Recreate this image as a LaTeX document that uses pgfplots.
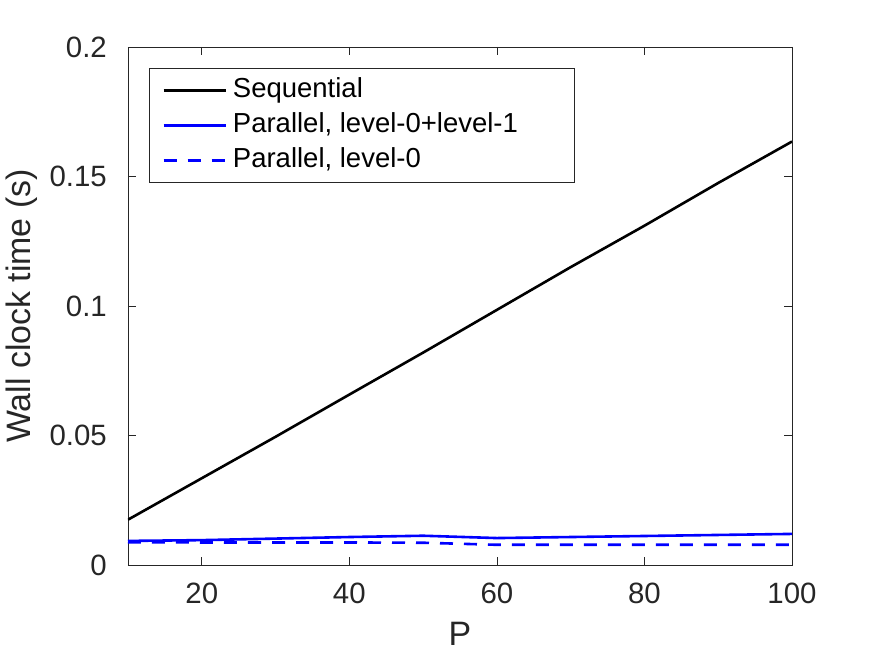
\documentclass[border=0pt]{standalone}
\usepackage{pgfplots}
\pgfplotsset{compat=1.18}
\usepackage{fontspec}
\setmainfont{Liberation Sans}
\definecolor{axgray}{gray}{0.15}
\begin{document}
\begin{tikzpicture}[x=1bp,y=1bp]
\useasboundingbox (-128bp,-92bp) rectangle (747bp,565bp);
\begin{axis}[
  scale only axis,
  width=664bp, height=518bp,
  at={(0,0)}, anchor=south west,
  xmin=10, xmax=100, ymin=0, ymax=0.2,
  xtick={20,40,60,80,100},
  ytick={0,0.05,0.1,0.15,0.2},
  yticklabels={0,0.05,0.1,0.15,0.2},
  scaled y ticks=false,
  tick align=inside,
  major tick length=8bp,
  axis line style={axgray, line width=0.7bp},
  every tick/.style={axgray, line width=0.7bp},
  tick label style={font=\fontsize{29.5}{34}\selectfont, text=axgray, inner sep=0bp},
  /pgf/number format/assume math mode=true,
  xticklabel style={anchor=north, yshift=-18bp},
  yticklabel style={anchor=east, xshift=-21bp},
  xlabel={P},
  ylabel={Wall clock time (s)},
  label style={font=\fontsize{34}{40}\selectfont, text=axgray, inner sep=0bp},
  xlabel style={at={(axis description cs:0.5,0)}, anchor=north, yshift=-57bp},
  ylabel style={at={(axis description cs:-0.1355,0.5)}, anchor=south},
  legend style={at={(21bp,497bp)}, anchor=north west, draw=axgray, line width=0.7bp,
    font=\fontsize{27.6}{33}\selectfont, inner xsep=13bp, inner ysep=9bp,
    row sep=9bp, column sep=6bp,
    nodes={inner sep=0bp, text height=20bp, text depth=6bp}},
  legend cell align=left,
  legend image code/.code={\draw[#1] (0bp,0bp) -- (62bp,0bp);},
]
\addplot[black, line width=2.6bp] coordinates {
 (10,0.0175) (20,0.0335) (30,0.0495) (40,0.0658) (50,0.0820)
 (60,0.0985) (70,0.1150) (80,0.1310) (90,0.1475) (100,0.1635)};
\addlegendentry{\makebox[328bp][l]{Sequential}}
\addplot[blue, line width=2.6bp] coordinates {
 (10,0.0093) (20,0.0096) (30,0.0102) (40,0.0108) (50,0.0113)
 (60,0.0104) (70,0.0108) (80,0.0112) (90,0.0116) (100,0.0120)};
\addlegendentry{Parallel, level-0+level-1}
\addplot[blue, line width=2.6bp, dash pattern=on 13bp off 11bp] coordinates {
 (10,0.0088) (20,0.0087) (30,0.0087) (40,0.0087) (50,0.0086)
 (60,0.0078) (70,0.0078) (80,0.0078) (90,0.0078) (100,0.0078)};
\addlegendentry{Parallel, level-0}
\end{axis}
\end{tikzpicture}
\end{document}
